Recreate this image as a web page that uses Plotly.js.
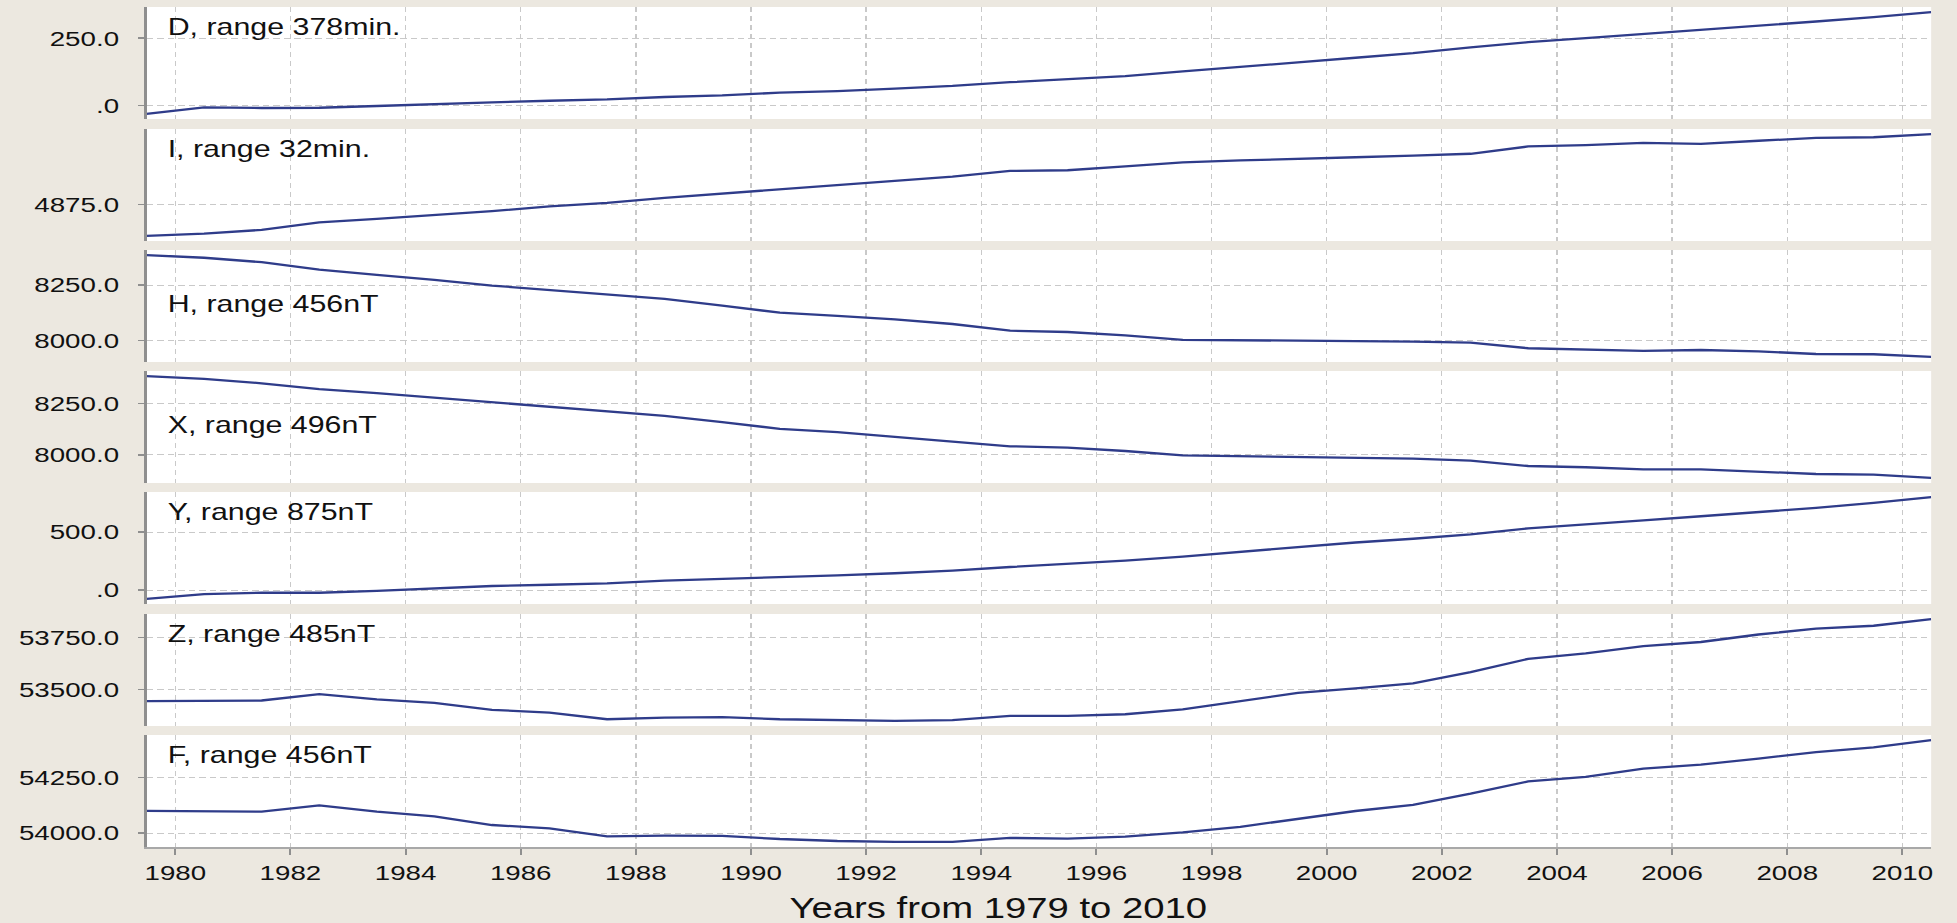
<!DOCTYPE html>
<html>
<head>
<meta charset="utf-8">
<script src="https://cdn.plot.ly/plotly-3.0.1.min.js"></script>
<style>
  html, body { margin: 0; padding: 0; background: #ECE8E0; overflow: hidden; }
  #wrap { width: 1957px; height: 923px; overflow: hidden; }
  #chart { width: 1482.6px; height: 923px; transform: scaleX(1.32); transform-origin: 0 0; }
</style>
</head>
<body>
<div id="wrap"><div id="chart"></div></div>
<script>
// ---- data (annual means, plotted at mid-year) ----
const years = [1979.5,1980.5,1981.5,1982.5,1983.5,1984.5,1985.5,1986.5,1987.5,1988.5,1989.5,
               1990.5,1991.5,1992.5,1993.5,1994.5,1995.5,1996.5,1997.5,1998.5,1999.5,2000.5,
               2001.5,2002.5,2003.5,2004.5,2005.5,2006.5,2007.5,2008.5,2009.5,2010.5];

const seriesD = [-32,-8,-10,-9,-2.5,5,11,17,22,31,37,
                 47,53,62,72,86,97,109,126,144,160,177,
                 194,216,235,250,265,280,295,312,328,347];
const seriesI = [4865.1,4865.8,4867.0,4869.4,4870.5,4871.6,4872.9,4874.4,4875.5,4877.1,4878.4,
                 4879.8,4881.2,4882.4,4883.8,4885.6,4885.8,4887.0,4888.3,4888.9,4889.3,4889.9,
                 4890.4,4891.0,4893.3,4893.7,4894.4,4894.1,4895.1,4896.0,4896.2,4897.2];
const seriesH = [8385,8373,8353,8320,8296,8274,8248,8229,8210,8188,8158,
                 8126,8112,8096,8075,8045,8039,8024,8004,8003,8000,7998,
                 7996,7991,7966,7961,7954,7958,7952,7940,7939,7927];
const seriesX = [8384,8370,8349,8320,8301,8279,8257,8232,8212,8190,8160,
                 8127,8111,8089,8067,8042,8036,8019,7998,7994,7989,7986,
                 7982,7972,7946,7940,7930,7930,7919,7907,7904,7888];
const seriesY = [-76,-35,-23,-23,-6,17,35,46,58,81,95,
                 110,127,145,168,199,225,254,289,329,367,410,
                 442,480,532,569,601,636,670,708,751,801];
const seriesZ = [53444,53444,53447,53478,53452,53436,53402,53389,53357,53365,53367,
                 53357,53353,53349,53353,53373,53373,53381,53404,53444,53484,53505,
                 53529,53583,53647,53673,53708,53728,53764,53792,53806,53838];
const seriesF = [54100,54097,54096,54124,54096,54075,54036,54021,53985,53988,53987,
                 53973,53964,53960,53960,53978,53975,53984,54003,54028,54063,54099,
                 54127,54177,54232,54253,54290,54308,54335,54364,54385,54418];

const panelLabels = ["D, range 378min.","I, range 32min.","H, range 456nT","X, range 496nT",
                     "Y, range 875nT","Z, range 485nT","F, range 456nT"];
const tickValsD = [0,250];        const tickTextD = [".0","250.0"];
const tickValsI = [4875];         const tickTextI = ["4875.0"];
const tickValsH = [8000,8250];    const tickTextH = ["8000.0","8250.0"];
const tickValsX = [8000,8250];    const tickTextX = ["8000.0","8250.0"];
const tickValsY = [0,500];        const tickTextY = [".0","500.0"];
const tickValsZ = [53500,53750];  const tickTextZ = ["53500.0","53750.0"];
const tickValsF = [54000,54250];  const tickTextF = ["54000.0","54250.0"];
const xTitle = "Years from 1979 to 2010";

// ---- build ----
const series = [seriesD,seriesI,seriesH,seriesX,seriesY,seriesZ,seriesF];
const tvals = [tickValsD,tickValsI,tickValsH,tickValsX,tickValsY,tickValsZ,tickValsF];
const ttext = [tickTextD,tickTextI,tickTextH,tickTextX,tickTextY,tickTextZ,tickTextF];
const labelLow = [false,false,true,true,false,false,false];

const FONT = '"Liberation Sans", Arial, Helvetica, sans-serif';
const LINE = '#2F3C8A';
const AXIS = '#8F8F8F';
const GRID = '#C9C9C9';

const nP = 7, totalH = 840, panelH = 112;
const panelTops = [0,122,243,364,485,607,728];

const traces = [];
const layout = {
  width: 1482.6, height: 923,
  margin: {l: 110.6, r: 19.7, t: 7, b: 76},
  paper_bgcolor: '#ECE8E0',
  plot_bgcolor: '#FFFFFF',
  showlegend: false,
  font: {family: FONT, color: '#111111', size: 21},
  annotations: [{
    text: xTitle, showarrow: false,
    xref: 'paper', x: 0.4773, xanchor: 'center',
    yref: 'paper', y: -0.0726, yanchor: 'middle',
    font: {size: 29, family: FONT, color: '#111'}
  }],
  xaxis: {
    range: [1979.5, 2010.5], anchor: 'y7', domain: [0,1],
    tick0: 1980, dtick: 2, ticks: 'outside', ticklen: 6, tickwidth: 1.5, tickcolor: AXIS,
    showline: true, linecolor: '#A8A8A8', linewidth: 2,
    showgrid: true, gridcolor: GRID, gridwidth: 1, griddash: '5px,4px',
    zeroline: false, tickfont: {size: 21, family: FONT, color: '#111'},
    ticklabelstandoff: 0
  }
};

for (let i = 0; i < nP; i++) {
  const yname = i === 0 ? 'y' : 'y' + (i + 1);
  const key = i === 0 ? 'yaxis' : 'yaxis' + (i + 1);
  const s = series[i];
  const mn = Math.min(...s), mx = Math.max(...s), pad = 0.05 * (mx - mn);
  const top = panelTops[i];
  traces.push({x: years, y: s, yaxis: yname, xaxis: 'x', type: 'scatter', mode: 'lines',
               line: {color: LINE, width: 2.3}, hoverinfo: 'x+y'});
  layout[key] = {
    domain: [1 - (top + panelH) / totalH, 1 - top / totalH],
    anchor: 'x', range: [mn - pad, mx + pad],
    tickmode: 'array', tickvals: tvals[i], ticktext: ttext[i],
    ticks: 'outside', ticklen: 5, tickwidth: 1.5, tickcolor: AXIS,
    showline: true, linecolor: AXIS, linewidth: 1.6,
    showgrid: true, gridcolor: GRID, gridwidth: 1, griddash: '5px,3px',
    zeroline: false, tickfont: {size: 21, family: FONT, color: '#111'},
    ticklabelstandoff: 10
  };
  layout.annotations.push({
    text: panelLabels[i], showarrow: false,
    xref: 'paper', x: 0, xanchor: 'left', xshift: 14,
    yref: yname + ' domain', y: 1, yanchor: 'middle', yshift: labelLow[i] ? -53.5 : -20,
    font: {size: 23, family: FONT, color: '#111'}
  });
}

Plotly.newPlot('chart', traces, layout, {staticPlot: true, displayModeBar: false});
</script>
</body>
</html>
